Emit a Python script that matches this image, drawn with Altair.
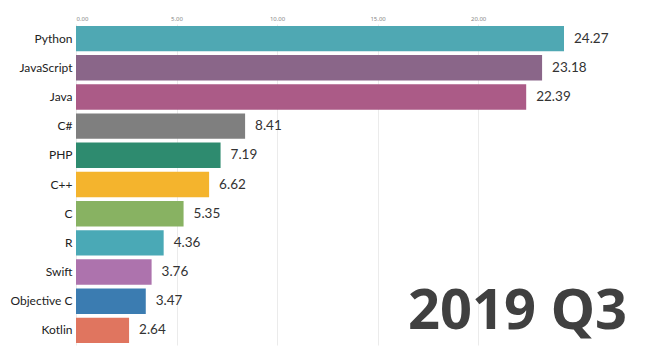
import altair as alt
import pandas as pd

languages = ["Python", "JavaScript", "Java", "C#", "PHP", "C++", "C", "R", "Swift", "Objective C", "Kotlin"]
shares = [24.27, 23.18, 22.39, 8.41, 7.19, 6.62, 5.35, 4.36, 3.76, 3.47, 2.64]
colors = ["#4fa8b3", "#8a6689", "#ab5b87", "#7f7f7f", "#2e8b6f", "#f4b42d",
          "#88b262", "#4aa9b6", "#ad73ad", "#3b7cb1", "#e0755f"]
period = ["2019 Q3"]
x_ticks = [0, 5, 10, 15, 20]

df = pd.DataFrame({"language": languages, "share": shares, "color": colors})
df["label"] = [f"{v:.2f}" for v in shares]

FONT = "Lato"
BIG_FONT = "Noto Sans"

x_scale = alt.Scale(domain=[0, max(shares)], nice=False, zero=True)
y_scale = alt.Scale(domain=languages, paddingInner=0.13, paddingOuter=0.065)

base = alt.Chart(df)

bars = base.mark_bar().encode(
    x=alt.X("share:Q", scale=x_scale,
            axis=alt.Axis(orient="top", values=x_ticks, format=".2f", title=None,
                          ticks=False, domain=False, labelFontSize=6,
                          labelColor="#888888", labelPadding=3, labelFont="Noto Sans",
                          grid=True, gridColor="#ebebeb", gridWidth=1)),
    y=alt.Y("language:N", scale=y_scale, sort=languages,
            axis=alt.Axis(title=None, ticks=False, domain=False, labelFontSize=12,
                          labelFont=FONT, labelColor="#222222", labelPadding=4,
                          labelLimit=200)),
    color=alt.Color("color:N", scale=None, legend=None),
)

values = base.mark_text(align="left", baseline="middle", dx=10, fontSize=13.5,
                        color="#333333", font=FONT).encode(
    x=alt.X("share:Q", scale=x_scale),
    y=alt.Y("language:N", scale=y_scale, sort=languages),
    text="label:N",
)

big = alt.Chart(pd.DataFrame({"period": period})).mark_text(
    align="right", baseline="alphabetic", fontSize=56, fontWeight="bold",
    color="#404040", font=BIG_FONT,
).encode(
    text="period:N",
    x=alt.value(551),
    y=alt.value(305),
)

chart = alt.layer(bars, values, big).properties(
    width=488, height=321,
    autosize=alt.AutoSizeParams(type="none"),
    padding={"left": 68, "top": 16, "right": 74, "bottom": 8},
    background="white",
).configure(font=FONT).configure_view(stroke=None)

chart.save("out.html", embed_options={"renderer": "svg", "actions": False})
